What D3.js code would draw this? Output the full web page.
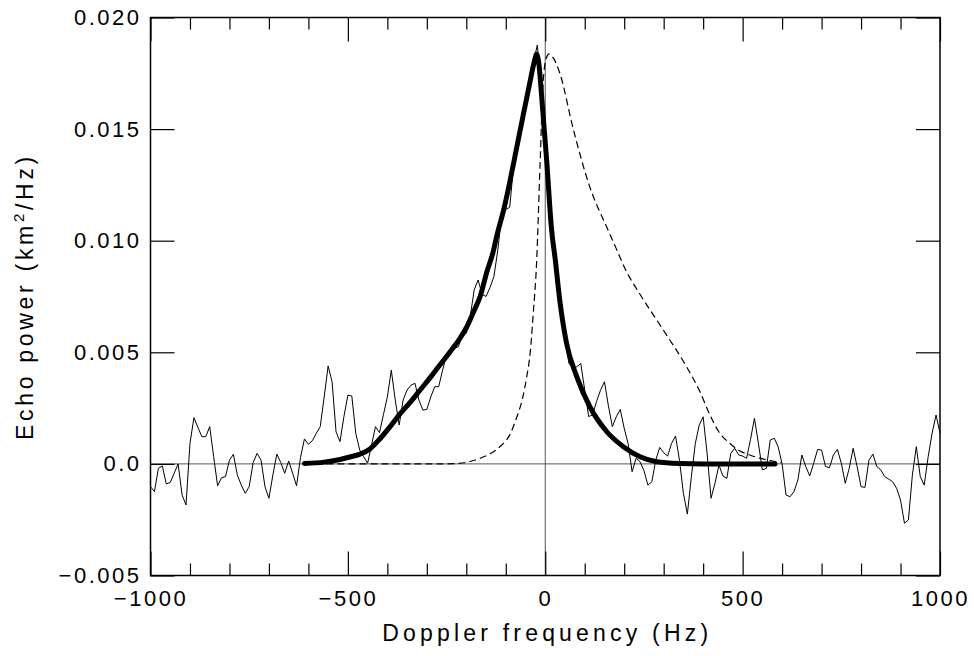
<!DOCTYPE html>
<html>
<head>
<meta charset="utf-8">
<script src="https://cdn.jsdelivr.net/npm/d3@7"></script>
<style>
  body { margin: 0; background: #fff; }
  text { font-family: "Liberation Sans", Arial, sans-serif; fill: #000; }
</style>
</head>
<body>
<script>
var W = 974, H = 656;
var margin = {top: 17.5, right: 34, bottom: 80.5, left: 150.5};
var w = W - margin.left - margin.right;
var h = H - margin.top - margin.bottom;

// observed spectrum, 10 Hz bins from -1000 to 1000 Hz (values in 1e-3 km^2/Hz)
var noiseFreq = d3.range(-1000, 1001, 10);
var noisePower = [
  -1.02, -1.24, -0.2, -0.09, -0.9, -0.83, -0.42, 0.0, -1.39, -1.84,
  0.92, 2.07, 1.64, 1.22, 1.22, 1.67, 0.32, -0.98, -0.62, -0.57,
  0.17, 0.43, -0.5, -0.95, -1.32, -1.02, 0.06, 0.47, 0.17, -1.02,
  -1.54, -0.5, 0.44, 0.06, -0.42, 0.13, -0.42, -0.98, 0.29, 1.12,
  0.88, 1.04, 1.37, 1.67, 3.0, 4.39, 3.68, 1.44, 1.0, 2.12,
  3.08, 3.04, 1.37, 0.62, 0.32, 0.03, 0.85, 1.67, 1.4, 2.2,
  3.0, 4.2, 2.86, 1.74, 2.86, 3.31, 3.53, 3.61, 2.86, 2.41,
  2.44, 3.0, 3.46, 3.46, 4.2, 4.9, 5.1, 5.18, 5.25, 5.77,
  5.85, 6.6, 7.8, 8.24, 7.6, 7.5, 7.9, 8.4, 9.6, 11.2,
  11.4, 11.5, 13.4, 14.4, 15.3, 16.2, 17.0, 18.0, 18.77, 16.5,
  13.8, 11.0, 9.4, 8.0, 6.8, 5.6, 4.5, 4.3, 4.35, 4.5,
  3.31, 2.12, 2.2, 2.8, 3.3, 3.68, 2.6, 1.67, 2.11, 2.44,
  1.6, 0.9, -0.35, 0.25, 0.1, -0.3, -0.95, -0.8, 0.17, 0.74,
  0.5, 0.35, 0.92, 1.25, 0.17, -1.32, -2.25, -0.6, 0.9, 1.74,
  2.11, 0.47, -1.54, -0.87, -0.05, -0.54, -0.65, 0.47, 0.7, 0.4,
  0.35, 0.25, 1.1, 2.04, 0.92, -0.27, -0.2, 1.07, 1.15, 0.77,
  0.0, -1.39, -1.47, -1.25, -0.72, 0.4, -0.12, -0.54, 0.03, 0.65,
  0.62, -0.12, -0.17, 0.4, 0.65, 0.03, -0.87, -0.2, 0.7, -0.12,
  -1.02, -1.05, 0.17, 0.44, -0.12, -0.27, -0.57, -0.68, -0.8, -1.09,
  -1.62, -2.66, -2.51, -0.5, 0.77, -0.57, -0.95, 0.32, 1.37, 2.19, 1.37
];

// fitted model (thick line)
var fitFreq = [-610, -560, -520, -490, -469, -444, -418, -393, -368, -340, -317, -290, -267, -240,
  -216, -200, -182, -165, -148, -132, -123, -105, -89, -72, -55, -40, -28, -22, -16, -9,
  4, 16, 25, 37, 54, 80, 113, 156, 198, 240, 282, 340, 400, 582];
var fitPower = [0.02, 0.08, 0.2, 0.33, 0.44, 0.67, 1.14, 1.67, 2.24, 2.8, 3.31, 3.9, 4.43, 5.05,
  5.63, 6.1, 6.8, 7.5, 8.6, 9.5, 10.2, 11.4, 12.7, 14.2, 15.7, 17.0, 18.0, 18.35, 17.9, 16.45,
  13.5, 10.5, 9.2, 7.3, 5.4, 3.9, 2.56, 1.44, 0.77, 0.32, 0.1, 0.02, 0.0, 0.0];

// alternative model (dashed line)
var altFreq = [-610, -300, -250, -224, -200, -165, -140, -115, -90, -72, -58, -47, -38, -31,
  -22, -13, -5, 3, 10, 20, 37, 71, 113, 156, 181, 202, 240, 299, 358, 392, 417, 442, 467,
  493, 518, 543, 573, 598];
var altPower = [0, 0, 0.005, 0.02, 0.07, 0.25, 0.45, 0.77, 1.3, 2.1, 2.9, 3.9, 5.0, 6.6,
  9.0, 13.5, 17.2, 18.2, 18.37, 18.2, 17.5, 15.0, 12.4, 10.6, 9.6, 8.75, 7.6, 6.0, 4.35, 3.23,
  2.2, 1.38, 0.93, 0.58, 0.4, 0.26, 0.14, 0.06];

var xMajor = [-1000, -500, 0, 500, 1000];
var xMinor = d3.range(-900, 1000, 100).filter(function(d) { return d % 500 !== 0; });
var yMajor = [-0.005, 0, 0.005, 0.010, 0.015, 0.020];
var yLabels = ["\u22120.005", "0.0", "0.005", "0.010", "0.015", "0.020"];
var unit = 1e-3;

var svg = d3.select("body").append("svg")
    .attr("width", W)
    .attr("height", H)
    .append("g")
    .attr("transform", "translate(" + margin.left + "," + margin.top + ")");

var x = d3.scaleLinear().domain([-1000, 1000]).range([0, w]);
var y = d3.scaleLinear().domain([-0.005, 0.020]).range([h, 0]);

// zero lines
svg.append("line")
    .attr("x1", 0).attr("x2", w)
    .attr("y1", y(0)).attr("y2", y(0))
    .attr("stroke", "#555").attr("stroke-width", 1);
svg.append("line")
    .attr("x1", x(0)).attr("x2", x(0))
    .attr("y1", 0).attr("y2", h)
    .attr("stroke", "#555").attr("stroke-width", 1);

function fmtX(d) { return d < 0 ? "\u2212" + Math.abs(d) : String(d); }

// axes, ticks pointing inward
function styleAxis(g) {
    g.select(".domain").remove();
    g.selectAll("line").attr("stroke", "#000").attr("stroke-width", 1.2);
    g.selectAll("text")
        .style("font-size", "22px")
        .style("letter-spacing", "2.5px")
        .attr("fill", "#000");
}

svg.append("g")
    .attr("transform", "translate(0," + h + ")")
    .call(d3.axisBottom(x).tickValues(xMajor).tickSize(-24).tickPadding(15).tickFormat(fmtX))
    .call(styleAxis);
svg.append("g")
    .attr("transform", "translate(0," + h + ")")
    .call(d3.axisBottom(x).tickValues(xMinor).tickSize(-12).tickFormat(""))
    .call(styleAxis);
svg.append("g")
    .call(d3.axisTop(x).tickValues(xMajor).tickSize(-24).tickFormat(""))
    .call(styleAxis);
svg.append("g")
    .call(d3.axisTop(x).tickValues(xMinor).tickSize(-12).tickFormat(""))
    .call(styleAxis);
svg.append("g")
    .call(d3.axisLeft(y).tickValues(yMajor).tickSize(-24).tickPadding(9)
        .tickFormat(function(d, i) { return yLabels[i]; }))
    .call(styleAxis);
svg.append("g")
    .attr("transform", "translate(" + w + ",0)")
    .call(d3.axisRight(y).tickValues(yMajor).tickSize(-24).tickFormat(""))
    .call(styleAxis);

// frame
svg.append("rect")
    .attr("width", w).attr("height", h)
    .attr("fill", "none")
    .attr("stroke", "#000")
    .attr("stroke-width", 1.5);

// observed spectrum
var noiseLine = d3.line()
    .x(function(d, i) { return x(noiseFreq[i]); })
    .y(function(d) { return y(d * unit); });
svg.append("path")
    .datum(noisePower)
    .attr("d", noiseLine)
    .attr("fill", "none")
    .attr("stroke", "#000")
    .attr("stroke-width", 1);

// dashed model
var altLine = d3.line()
    .x(function(d, i) { return x(altFreq[i]); })
    .y(function(d) { return y(d * unit); })
    .curve(d3.curveMonotoneX);
svg.append("path")
    .datum(altPower)
    .attr("d", altLine)
    .attr("fill", "none")
    .attr("stroke", "#000")
    .attr("stroke-width", 1.2)
    .attr("stroke-dasharray", "7,4");

// fitted model
var fitLine = d3.line()
    .x(function(d, i) { return x(fitFreq[i]); })
    .y(function(d) { return y(d * unit); })
    .curve(d3.curveMonotoneX);
svg.append("path")
    .datum(fitPower)
    .attr("d", fitLine)
    .attr("fill", "none")
    .attr("stroke", "#000")
    .attr("stroke-width", 5)
    .attr("stroke-linecap", "round")
    .attr("stroke-linejoin", "round");

// axis titles
svg.append("text")
    .attr("x", w / 2 + 2)
    .attr("y", h + 65)
    .attr("text-anchor", "middle")
    .style("font-size", "23px")
    .style("letter-spacing", "4.2px")
    .text("Doppler frequency (Hz)");

var yt = svg.append("text")
    .attr("transform", "translate(-118," + (h / 2) + ") rotate(-90)")
    .attr("text-anchor", "middle")
    .style("font-size", "23px")
    .style("letter-spacing", "3.7px");
yt.append("tspan").text("Echo power (km");
yt.append("tspan").attr("dy", -9).style("font-size", "15px").text("2");
yt.append("tspan").attr("dy", 9).text("/Hz)");
</script>
</body>
</html>
